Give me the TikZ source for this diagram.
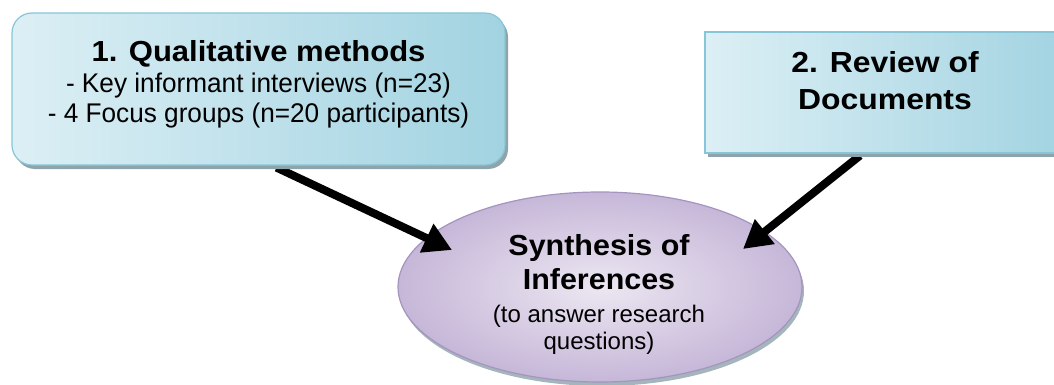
\documentclass[tikz,border=0pt]{standalone}
\usepackage{fontspec}
\setmainfont{Liberation Sans}
\usetikzlibrary{arrows.meta,shadows,shapes.geometric}
\pgfdeclarelayer{bg}\pgfdeclarelayer{mid}
\pgfsetlayers{bg,mid,main}
\definecolor{boxlight}{HTML}{DCEFF5}
\definecolor{boxdark}{HTML}{A2D3E1}
\definecolor{boxedge}{HTML}{86C6D8}
\definecolor{shadowgray}{HTML}{8FA3AB}
\definecolor{ellin}{HTML}{ECE7F2}
\definecolor{ellout}{HTML}{C6B7D8}
\definecolor{elledge}{HTML}{A494C0}
\newcommand{\stretchfont}[3]{\fontsize{#1}{#2}\selectfont\addfontfeatures{FakeStretch=#3}}
\tikzset{
  boxshape/.style={draw=boxedge, line width=1.2pt, left color=boxlight, right color=boxdark,
    inner sep=0pt, drop shadow={shadow xshift=3pt, shadow yshift=-4pt, fill=shadowgray, opacity=1}},
  ellshape/.style={ellipse, draw=elledge, line width=1.2pt, inner color=ellin, outer color=ellout,
    inner sep=0pt, drop shadow={shadow xshift=2pt, shadow yshift=-4pt, fill=shadowgray!80, opacity=1}},
  txt/.style={align=center, anchor=base, inner sep=0pt, text=black},
  arr/.style={line width=8pt, -{Triangle[length=28pt,width=30pt]}}
}
\begin{document}
\begin{tikzpicture}[x=1pt,y=-1pt]
\useasboundingbox (0,0) rectangle (1054,385);
% ellipse (background)
\begin{pgfonlayer}{bg}
\node[ellshape, minimum width=404pt, minimum height=190pt] (synth) at (600,287) {};
\end{pgfonlayer}
% boxes
\node[boxshape, rounded corners=20pt, minimum width=493pt, minimum height=152pt] (box1) at (258.5,89) {};
\node[boxshape, minimum width=365pt, minimum height=121pt] (box2) at (887.5,92.5) {};
% texts (anchor base = baseline of the last line)
\node[txt, font={\stretchfont{27}{29.5}{0.97}}] (box1text) at (258.5,122.5)
  {{\bfseries\stretchfont{29}{31}{1.07}1. Qualitative methods}\\[2pt]
   - Key informant interviews (n=23)\\
   - 4 Focus groups (n=20 participants)};
\node[txt, font={\bfseries\stretchfont{29}{37}{1.1}}] (box2text) at (885,110)
  {2. Review of\\Documents};
\node[txt, font={\bfseries\stretchfont{29}{34}{1.05}}] (synthtitle) at (599,289)
  {Synthesis of\\Inferences};
\node[txt, font={\fontsize{24}{27}\selectfont}] (synthsub) at (599,349)
  {(to answer research\\questions)};
% arrows
\coordinate (t1) at (452,250);
\coordinate (t2) at (743,249);
\begin{pgfonlayer}{mid}
\draw[arr] ([xshift=18pt,yshift=-2pt]box1.south) -- (t1);
\draw[arr] ([xshift=-27.5pt,yshift=-2pt]box2.south) -- (t2);
\end{pgfonlayer}
\end{tikzpicture}
\end{document}
